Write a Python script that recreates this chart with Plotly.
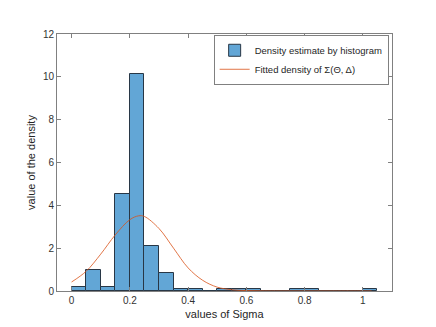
import plotly.graph_objects as go

# histogram bins (width 0.05) and density heights
bin_left = [0.00, 0.05, 0.10, 0.15, 0.20, 0.25, 0.30, 0.35, 0.40, 0.45,
            0.50, 0.55, 0.60, 0.65, 0.70, 0.75, 0.80, 0.85, 0.90, 0.95, 1.00]
bin_density = [0.18, 1.00, 0.18, 4.55, 10.12, 2.08, 0.85, 0.09, 0.09, 0.0,
               0.09, 0.09, 0.09, 0.0, 0.0, 0.09, 0.09, 0.0, 0.0, 0.0, 0.09]
bin_width = 0.05

# fitted density curve
fit_x = [0.0, 0.05, 0.10, 0.15, 0.20, 0.23, 0.25, 0.30, 0.35, 0.40, 0.45,
         0.50, 0.55, 0.60, 0.65, 0.70, 0.80, 0.90, 1.00, 1.03]
fit_y = [0.42, 0.92, 1.72, 2.62, 3.33, 3.51, 3.48, 2.92, 2.00, 1.08, 0.50,
         0.18, 0.06, 0.02, 0.005, 0.0, 0.0, 0.0, 0.0, 0.0]

x_ticks = [0, 0.2, 0.4, 0.6, 0.8, 1.0]
x_labels = ["0", "0.2", "0.4", "0.6", "0.8", "1"]
y_ticks = [0, 2, 4, 6, 8, 10, 12]

fig = go.Figure()
fig.add_trace(go.Bar(
    x=[b + bin_width / 2 for b in bin_left], y=bin_density, width=bin_width,
    name="Density estimate by histogram",
    marker=dict(color="rgb(98,166,214)", line=dict(color="rgb(40,55,70)", width=1)),
))
fig.add_trace(go.Scatter(
    x=fit_x, y=fit_y, mode="lines", line_shape="spline",
    name="Fitted density of Σ(Θ, Δ)",
    line=dict(color="rgb(217,83,25)", width=0.8),
))

axis_common = dict(showline=True, linecolor="rgb(128,128,128)", linewidth=1, mirror="ticks",
                   ticks="inside", ticklen=4, tickcolor="rgb(128,128,128)", showgrid=False,
                   zeroline=False, automargin=False,
                   tickfont=dict(size=10, color="rgb(50,50,50)"))

# page body adds an 8px offset, so the figure is 8px smaller than the window
fig.update_layout(
    width=428, height=319,
    margin=dict(l=49, r=44, t=26, b=36, autoexpand=False),
    paper_bgcolor="white",
    plot_bgcolor="white",
    font=dict(family="Liberation Sans, Arial, sans-serif", size=10, color="rgb(38,38,38)"),
    bargap=0,
    showlegend=True,
    legend=dict(x=0.99, y=0.997, xanchor="right", yanchor="top",
                bordercolor="rgb(128,128,128)", borderwidth=1, bgcolor="white",
                font=dict(size=9.5), tracegroupgap=0, itemwidth=30),
    xaxis=dict(range=[-0.05, 1.1], tickvals=x_ticks, ticktext=x_labels,
               title=dict(text="values of Sigma", standoff=5, font=dict(size=11)), **axis_common),
    yaxis=dict(range=[0, 12], tickvals=y_ticks,
               title=dict(text="value of the density", standoff=5, font=dict(size=11)), **axis_common),
)

fig.write_html("out.html")
